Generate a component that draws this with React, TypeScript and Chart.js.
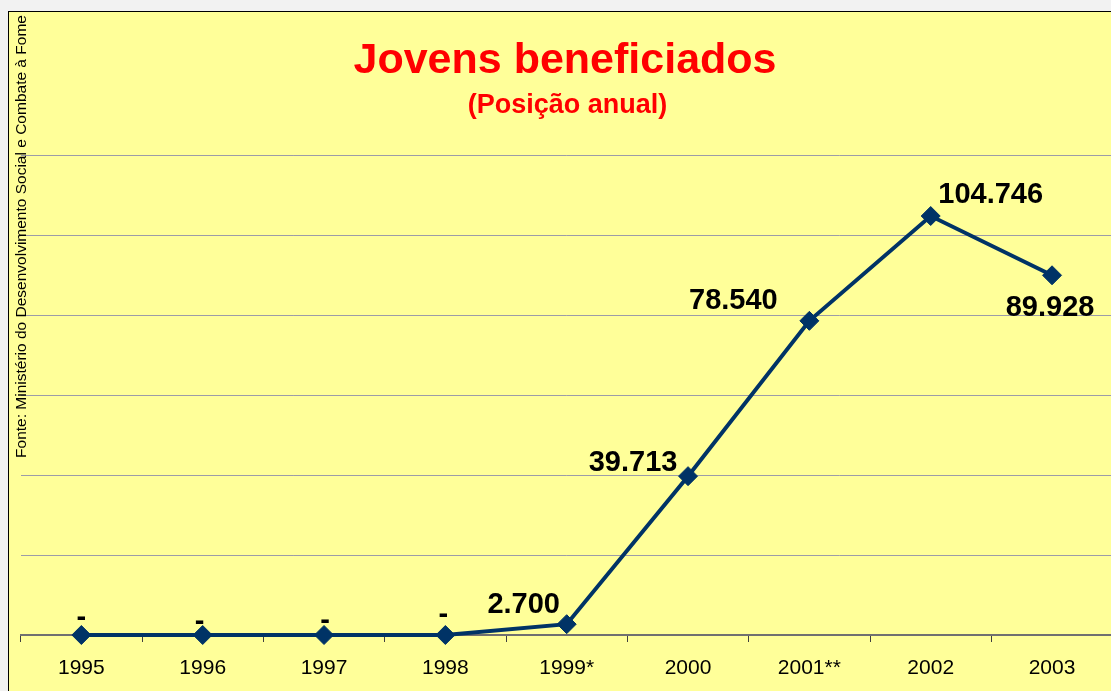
import React, { useEffect, useRef } from "react";
import { Chart, registerables } from "chart.js";

Chart.register(...registerables);

const categories = ["1995", "1996", "1997", "1998", "1999*", "2000", "2001**", "2002", "2003"];
const values = [0, 0, 0, 0, 2700, 39713, 78540, 104746, 89928];
const yMin = 0;
const yMax = 120000;
const yStep = 20000;
const titleText = "Jovens beneficiados";
const subtitleText = "(Posição anual)";
const sourceText = "Fonte: Ministério do Desenvolvimento Social e Combate à Fome";

// label placement relative to each point (text centre x, baseline y)
const labelDx = [0, -3, 1, -2, -43, -55, -76, 60, -2];
const labelDy = [-9, -5.5, -6, -12, -11, -5.5, -11.5, -12.7, 40.4];

const FONT = "'Liberation Sans', Arial, sans-serif";

function fmt(v: number): string {
  if (v === 0) return "-";
  return String(v).replace(/\B(?=(\d{3})+(?!\d))/g, ".");
}

const textPlugin = {
  id: "textPlugin",
  afterDatasetsDraw(chart: any) {
    const ctx = chart.ctx as CanvasRenderingContext2D;
    const meta = chart.getDatasetMeta(0);
    ctx.save();
    ctx.fillStyle = "#000000";
    ctx.font = `bold 29px ${FONT}`;
    ctx.textAlign = "center";
    ctx.textBaseline = "alphabetic";
    meta.data.forEach((pt: any, i: number) => {
      ctx.fillText(fmt(values[i]), pt.x + labelDx[i], pt.y + labelDy[i]);
    });
    ctx.restore();
  },
  afterDraw(chart: any) {
    const ctx = chart.ctx as CanvasRenderingContext2D;
    ctx.save();
    ctx.fillStyle = "#FF0000";
    ctx.textAlign = "center";
    ctx.textBaseline = "alphabetic";
    ctx.font = `bold 43px ${FONT}`;
    ctx.fillText(titleText, 556, 61.3);
    ctx.font = `bold 27px ${FONT}`;
    ctx.fillText(subtitleText, 558.5, 101.3);

    ctx.fillStyle = "#000000";
    ctx.font = `15.5px ${FONT}`;
    ctx.translate(17, 224.5);
    ctx.rotate(-Math.PI / 2);
    ctx.fillText(sourceText, 0, 0);
    ctx.restore();
  },
};

export default function App() {
  const ref = useRef<HTMLCanvasElement | null>(null);

  useEffect(() => {
    if (!ref.current) return;
    const chart = new Chart(ref.current, {
      type: "line",
      data: {
        labels: categories,
        datasets: [
          {
            data: values,
            borderColor: "#003366",
            borderWidth: 4,
            tension: 0,
            pointStyle: "rectRot",
            pointRadius: 9.5,
            pointHoverRadius: 9.5,
            pointBackgroundColor: "#003366",
            pointBorderColor: "#003366",
            pointBorderWidth: 1,
            clip: false as any,
          },
        ],
      },
      options: {
        responsive: false,
        animation: false,
        events: [],
        layout: { autoPadding: false, padding: { left: 11.7, right: 6.3, top: 143, bottom: 0 } },
        plugins: {
          legend: { display: false },
          tooltip: { enabled: false },
          title: { display: false },
        },
        scales: {
          x: {
            type: "category",
            offset: true,
            grid: {
              offset: true,
              drawOnChartArea: false,
              drawTicks: true,
              tickLength: 7,
              tickColor: "#404040",
              tickWidth: 1,
            },
            border: { display: true, color: "#707070", width: 2 },
            ticks: {
              color: "#000000",
              font: { family: FONT, size: 21 },
              padding: 14,
              maxRotation: 0,
              autoSkip: false,
            },
            afterFit(axis: any) {
              axis.height = 57;
              axis.paddingLeft = 0;
              axis.paddingRight = 0;
            },
          },
          y: {
            min: yMin,
            max: yMax,
            ticks: { display: false, stepSize: yStep },
            grid: { color: "#9c9ca8", lineWidth: 1, drawTicks: false },
            border: { display: false },
            afterFit(axis: any) {
              axis.width = 0;
              axis.paddingTop = 0;
              axis.paddingBottom = 0;
            },
          },
        },
      },
      plugins: [textPlugin],
    });
    return () => chart.destroy();
  }, []);

  return (
    <div style={{ position: "fixed", left: 0, top: 0, right: 0, bottom: 0, background: "#f2f2f2", overflow: "hidden" }}>
      <div
        style={{
          position: "absolute",
          left: 8,
          top: 11,
          width: 1110,
          height: 690,
          borderLeft: "1px solid #000",
          borderTop: "1px solid #000",
          background: "#FFFF99",
          overflow: "hidden",
        }}
      >
        <canvas ref={ref} width={1110} height={680} style={{ display: "block" }} />
      </div>
    </div>
  );
}
